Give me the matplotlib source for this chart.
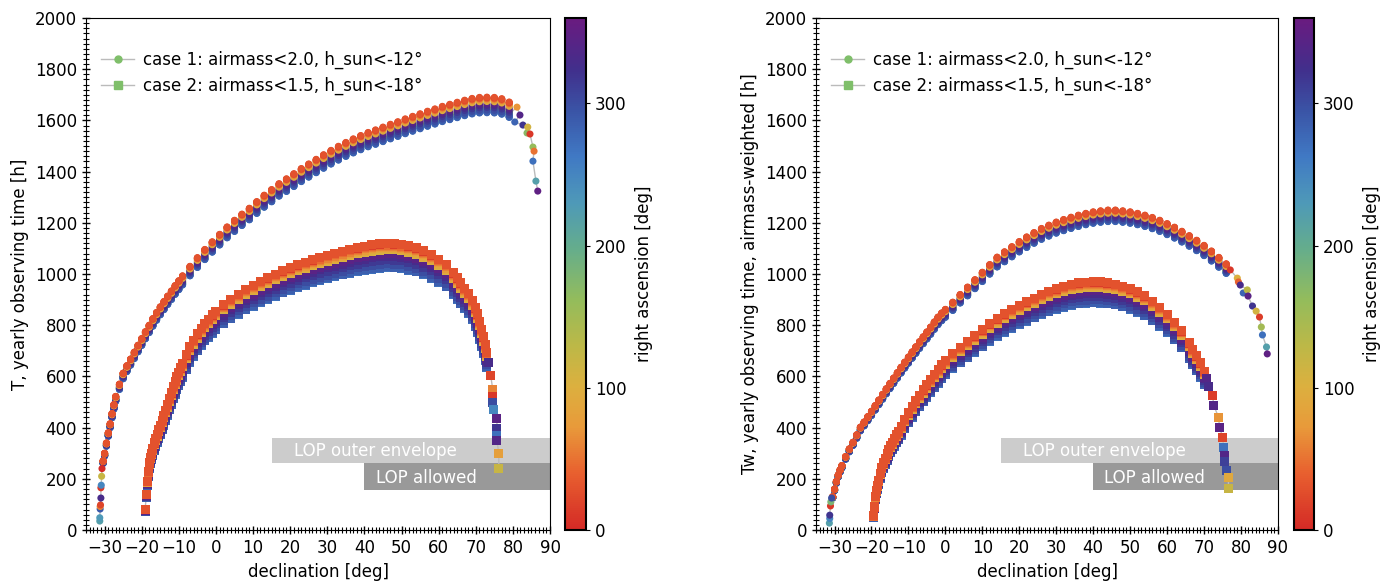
import numpy as np
import matplotlib
matplotlib.use('Agg')
import matplotlib.pyplot as plt
from matplotlib.colors import LinearSegmentedColormap, Normalize
from matplotlib.cm import ScalarMappable
from matplotlib.lines import Line2D
from matplotlib.patches import Rectangle
from matplotlib.ticker import MultipleLocator

plt.rcParams['font.family'] = ['DejaVu Sans']
plt.rcParams['font.size'] = 12

# right ascension of the fields in every declination ring [deg], in drawing order
RA_FIELDS = [120, 135, 150, 165, 180, 195, 210, 225, 240, 255, 270, 285,
             300, 315, 330, 345, 105, 90, 75, 60, 0, 45, 15, 30]
# relative loss of each RA field against the best field of its ring
LOSS_CASE1 = [0.022, 0.024, 0.026, 0.027, 0.028, 0.029, 0.030, 0.032, 0.034, 0.035, 0.036, 0.035,
              0.030, 0.024, 0.019, 0.015, 0.010, 0.008, 0.006, 0.004, 0.002, 0.003, 0.001, 0.0]
LOSS_CASE2 = [0.050, 0.054, 0.058, 0.061, 0.064, 0.067, 0.070, 0.074, 0.078, 0.082, 0.085, 0.082,
              0.072, 0.058, 0.046, 0.036, 0.022, 0.018, 0.014, 0.010, 0.005, 0.006, 0.002, 0.0]

# ---- left panel: T [h] ----
C1L_START_DEC = [-31.3, -31.3, -31.2, -31.2, -31.1, -31.0, -31.0, -30.9, -30.8, -30.7]
C1L_START_T = [35, 48, 82, 92, 98, 125, 165, 175, 210, 240]
C1L_START_RA = [220, 230, 290, 60, 20, 330, 10, 250, 120, 0]

C1L_DEC = [-30.4, -30.0, -29.5, -29.0, -28.5, -28.0, -27.5, -27.0, -26.0, -25.0,
           -24.0, -23.0, -22.0, -21.0, -20.0, -19.0, -18.0, -17.0, -16.0, -15.0,
           -14.0, -13.0, -12.0, -11.0, -10.0, -9.0, -7.0, -5.0, -3.0, -1.0,
           1, 3, 5, 7, 9, 11, 13, 15, 17, 19,
           21, 23, 25, 27, 29, 31, 33, 35, 37, 39,
           41, 43, 45, 47, 49, 51, 53, 55, 57, 59,
           61, 63, 65, 67, 69, 71, 73, 75, 77, 79]
C1L_T = [270, 300, 340, 380, 415, 455, 490, 522, 570, 613,
         642, 668, 695, 722, 748, 775, 800, 826, 850, 872,
         893, 914, 934, 955, 974, 993, 1030, 1064, 1096, 1126,
         1155, 1184, 1210, 1234, 1257, 1283, 1308, 1330, 1353, 1372,
         1392, 1412, 1430, 1448, 1466, 1483, 1499, 1514, 1528, 1541,
         1553, 1563, 1574, 1585, 1595, 1606, 1616, 1626, 1636, 1645,
         1655, 1663, 1671, 1679, 1686, 1690, 1691, 1690, 1685, 1672]

C1L_TAIL_DEC = [80.5, 81.1, 81.9, 82.7, 83.8, 84.0, 84.6, 85.4, 85.7, 85.4, 86.2, 86.7]
C1L_TAIL_T = [1594, 1652, 1621, 1582, 1551, 1574, 1547, 1496, 1480, 1441, 1363, 1324]
C1L_TAIL_RA = [280, 70, 340, 320, 170, 110, 10, 160, 50, 270, 220, 350]

C2L_DEC = [-19.1, -18.8, -18.5, -18.2, -17.9, -17.6, -17.3, -17.0, -16.6, -16.2,
           -15.8, -15.4, -15.0, -14.5, -14.0, -13.5, -13.0, -12.5, -12.0, -11.5,
           -11.0, -10.5, -10.0, -9.5, -9.0, -8.0, -7.0, -6.0, -5.0, -4.0,
           -3.0, -2.0, -1.0, 0.0, 2, 4, 6, 8, 10, 12,
           14, 16, 18, 20, 22, 24, 26, 28, 30, 32,
           34, 36, 38, 40, 42, 44, 46, 48, 50, 52,
           54, 56, 58, 60, 62, 64, 65, 66, 67, 68,
           69, 70, 70.5, 71, 71.5, 72, 72.5, 73]
C2L_T = [80, 140, 190, 228, 262, 285, 300, 318, 340, 358,
         375, 392, 408, 428, 448, 468, 490, 514, 536, 560,
         580, 598, 616, 633, 652, 685, 716, 742, 766, 788,
         808, 824, 840, 855, 880, 902, 922, 940, 956, 971,
         985, 999, 1012, 1024, 1036, 1046, 1056, 1065, 1073, 1081,
         1089, 1097, 1103, 1109, 1114, 1118, 1120, 1119, 1116, 1110,
         1102, 1090, 1075, 1058, 1038, 1005, 985, 965, 945, 925,
         898, 868, 845, 815, 785, 755, 725, 695]

C2L_TAIL_DEC = [73.5, 74.0, 74.6, 74.6, 74.4, 74.9, 75.7, 75.7, 75.7, 75.7, 76.2, 76.2]
C2L_TAIL_T = [655, 605, 547, 520, 500, 469, 437, 398, 371, 348, 300, 242]
C2L_TAIL_RA = [330, 20, 60, 10, 300, 250, 345, 320, 270, 340, 80, 120]

# ---- right panel: Tw [h], airmass-weighted ----
C1R_START_DEC = [-31.4, -31.3, -31.3, -31.1, -31.0, -30.8]
C1R_START_T = [27, 45, 58, 94, 110, 125]
C1R_START_RA = [220, 250, 320, 10, 180, 300]

C1R_DEC = [-30.5, -30.0, -29.5, -29.0, -28.5, -28.0, -27.0, -26.0, -25.0, -24.0,
           -23.0, -22.0, -21.0, -20.0, -19.0, -18.0, -17.0, -16.0, -15.0, -14.0,
           -13.0, -12.0, -11.0, -10.0, -9.0, -8.0, -7.0, -6.0, -5.0, -4.0,
           -3.0, -2.0, -1.0, 0, 2, 4, 6, 8, 10, 12,
           14, 16, 18, 20, 22, 24, 26, 28, 30, 32,
           34, 36, 38, 40, 42, 44, 46, 48, 50, 52,
           54, 56, 58, 60, 62, 64, 66, 68, 70, 72,
           74, 76]
C1R_T = [130, 160, 190, 215, 235, 252, 287, 317, 343, 372,
         402, 422, 443, 464, 486, 508, 530, 552, 573, 594,
         615, 636, 656, 676, 696, 716, 736, 755, 774, 793,
         813, 832, 848, 862, 890, 920, 949, 978, 1007, 1037,
         1066, 1087, 1107, 1127, 1145, 1162, 1178, 1191, 1203, 1213,
         1222, 1230, 1237, 1243, 1247, 1250, 1250, 1247, 1243, 1237,
         1230, 1221, 1210, 1197, 1183, 1167, 1150, 1132, 1112, 1090,
         1065, 1040]

C1R_TAIL_DEC = [77.1, 79.0, 79.3, 79.8, 80.6, 81.7, 81.9, 83.1, 84.1, 85.0, 85.5, 85.8, 86.9, 87.1]
C1R_TAIL_T = [1016, 984, 969, 957, 926, 938, 914, 875, 855, 832, 793, 762, 715, 688]
C1R_TAIL_RA = [10, 100, 40, 330, 280, 130, 345, 320, 110, 15, 150, 270, 220, 350]

C2R_DEC = [-19.5, -19.2, -18.9, -18.6, -18.3, -18.0, -17.6, -17.2, -16.8, -16.3,
           -15.8, -15.3, -14.8, -14.3, -13.8, -13.3, -12.8, -12.0, -11.0, -10.0,
           -9.0, -8.0, -7.0, -6.0, -5.0, -4.0, -3.0, -2.0, -1.0, 0,
           2, 4, 6, 8, 10, 12, 14, 16, 18, 20,
           22, 24, 26, 28, 30, 32, 34, 36, 38, 40,
           42, 44, 46, 48, 50, 52, 54, 56, 58, 60,
           62, 64, 66, 67, 68, 69, 70]
C2R_T = [55, 90, 130, 155, 175, 195, 222, 245, 262, 280,
         297, 315, 330, 343, 358, 372, 385, 405, 432, 458,
         482, 505, 527, 547, 567, 588, 608, 627, 645, 662,
         690, 714, 736, 758, 782, 806, 826, 845, 862, 878,
         892, 906, 920, 932, 943, 952, 960, 965, 968, 970,
         969, 966, 961, 953, 943, 930, 915, 893, 870, 843,
         812, 778, 732, 705, 680, 653, 620]

C2R_TAIL_DEC = [70.6, 71.2, 72.3, 72.6, 73.9, 74.2, 75.0, 75.3, 75.5, 75.5, 76.1, 76.6, 76.6]
C2R_TAIL_T = [590, 559, 527, 488, 441, 402, 363, 324, 293, 266, 234, 207, 164]
C2R_TAIL_RA = [340, 330, 15, 340, 70, 345, 20, 270, 340, 310, 300, 90, 120]

LEGEND_LABELS = ['case 1: airmass<2.0, h_sun<-12°', 'case 2: airmass<1.5, h_sun<-18°']
YLABELS = ['T, yearly observing time [h]', 'Tw, yearly observing time, airmass-weighted [h]']

ra_cmap = LinearSegmentedColormap.from_list('ra', [
    (0.0, '#d42a26'), (0.11, '#e8602f'), (0.2, '#e89a3a'), (0.28, '#dcb03f'),
    (0.36, '#bcb847'), (0.45, '#93bc5c'), (0.55, '#65ad8c'), (0.64, '#4e99b8'),
    (0.73, '#4079c4'), (0.82, '#3a54a6'), (0.9, '#412f8c'), (1.0, '#6a1b80')])
norm = Normalize(0, 360)
GREY = '#bbbbbb'
LEGEND_GREEN = '#7fbf6a'


def case_points(ring_dec, ring_t, loss, extra):
    # one field per RA in every ring, drawn in RA_FIELDS order
    dec, t, ra = [], [], []
    for ra_val, l in zip(RA_FIELDS, loss):
        dec += list(ring_dec)
        t += list(np.array(ring_t) * (1 - l))
        ra += [ra_val] * len(ring_dec)
    for ed, et, er in extra:
        dec += list(ed)
        t += list(et)
        ra += list(er)
    return np.array(dec), np.array(t), np.array(ra)


def draw_case(ax, ring_dec, ring_t, loss, start, tail, marker, size):
    extra = [p for p in (start, tail) if p is not None]
    dec, t, ra = case_points(ring_dec, ring_t, loss, extra)
    # thin guide line through the middle of the band
    mid = np.array(ring_t) * (1 - loss[RA_FIELDS.index(180)])
    line_dec = list(ring_dec)
    line_t = list(mid)
    if start is not None:
        line_dec = list(start[0]) + line_dec
        line_t = list(start[1]) + line_t
    if tail is not None:
        order = np.argsort(tail[1])[::-1]
        line_dec += list(np.array(tail[0])[order])
        line_t += list(np.array(tail[1])[order])
    ax.plot(line_dec, line_t, color=GREY, lw=1, zorder=2)
    ax.scatter(dec, t, c=ra, cmap=ra_cmap, norm=norm, marker=marker, s=size,
               linewidths=0, zorder=3)


def draw_panel(ax, cax, case1, case2, ylabel):
    ax.add_patch(Rectangle((15, 260), 75, 100, color='#cccccc', lw=0, zorder=1))
    ax.add_patch(Rectangle((40, 155), 50, 105, color='#999999', lw=0, zorder=1))
    ax.text(21, 308, 'LOP outer envelope', color='white', va='center', zorder=1.5)
    ax.text(43, 203, 'LOP allowed', color='white', va='center', zorder=1.5)

    draw_case(ax, case1[0], case1[1], LOSS_CASE1, case1[2], case1[3], 'o', 26)
    draw_case(ax, case2[0], case2[1], LOSS_CASE2, None, case2[2], 's', 42)

    ax.set_xlim(-35, 90)
    ax.set_ylim(0, 2000)
    ax.xaxis.set_major_locator(MultipleLocator(10))
    ax.xaxis.set_minor_locator(MultipleLocator(1))
    ax.yaxis.set_major_locator(MultipleLocator(200))
    ax.yaxis.set_minor_locator(MultipleLocator(20))
    ax.tick_params(which='major', direction='inout', length=6, width=1)
    ax.tick_params(which='minor', direction='inout', length=4, width=0.8)
    ax.set_xlabel('declination [deg]')
    ax.set_ylabel(ylabel)

    handles = [Line2D([], [], color=GREY, lw=1, marker='o', ms=5, mfc=LEGEND_GREEN, mec=LEGEND_GREEN),
               Line2D([], [], color=GREY, lw=1, marker='s', ms=6, mfc=LEGEND_GREEN, mec=LEGEND_GREEN)]
    ax.legend(handles, LEGEND_LABELS, loc='upper left', bbox_to_anchor=(0.0, 0.965),
              frameon=False, handlelength=2.0, handletextpad=0.5, labelspacing=0.45)

    sm = ScalarMappable(norm=norm, cmap=ra_cmap)
    cbar = plt.colorbar(sm, cax=cax, ticks=[0, 100, 200, 300])
    cbar.set_label('right ascension [deg]', labelpad=6)
    cbar.outline.set_linewidth(1.5)
    cax.tick_params(length=3)


fig = plt.figure(figsize=(13.9, 5.82), dpi=100)
ax1 = fig.add_axes([0.0619, 0.0893, 0.3338, 0.8797])
cax1 = fig.add_axes([0.4065, 0.0893, 0.0151, 0.8797])
ax2 = fig.add_axes([0.5871, 0.0893, 0.3323, 0.8797])
cax2 = fig.add_axes([0.9309, 0.0893, 0.0144, 0.8797])

draw_panel(ax1, cax1,
           (C1L_DEC, C1L_T, (C1L_START_DEC, C1L_START_T, C1L_START_RA),
            (C1L_TAIL_DEC, C1L_TAIL_T, C1L_TAIL_RA)),
           (C2L_DEC, C2L_T, (C2L_TAIL_DEC, C2L_TAIL_T, C2L_TAIL_RA)),
           YLABELS[0])
draw_panel(ax2, cax2,
           (C1R_DEC, C1R_T, (C1R_START_DEC, C1R_START_T, C1R_START_RA),
            (C1R_TAIL_DEC, C1R_TAIL_T, C1R_TAIL_RA)),
           (C2R_DEC, C2R_T, (C2R_TAIL_DEC, C2R_TAIL_T, C2R_TAIL_RA)),
           YLABELS[1])

fig.savefig('out.png', dpi=100)
